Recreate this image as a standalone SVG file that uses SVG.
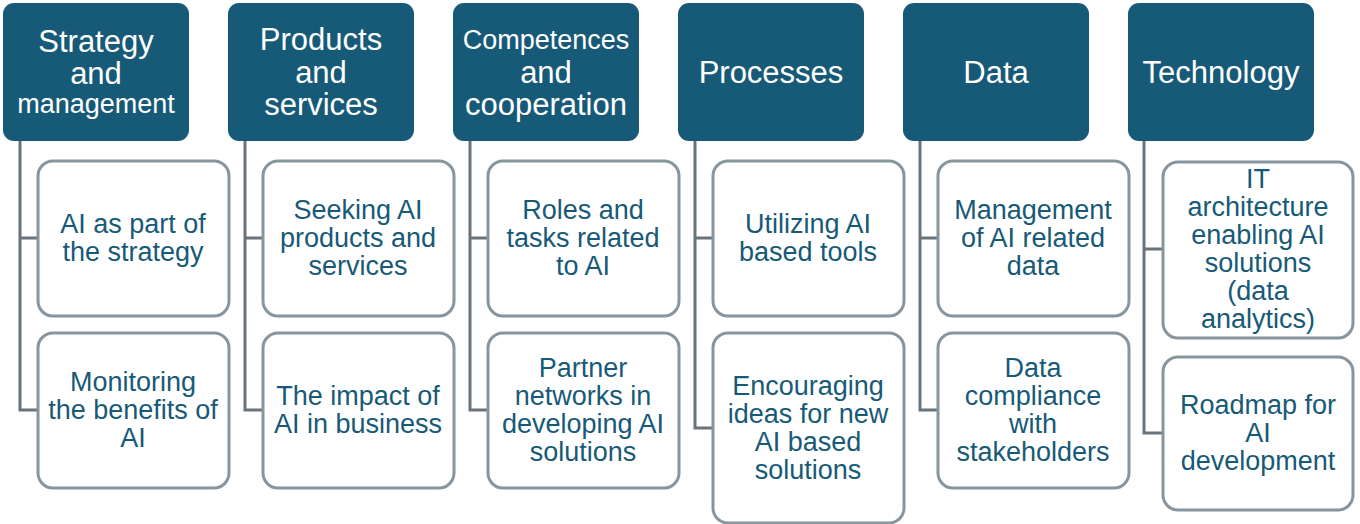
<svg xmlns="http://www.w3.org/2000/svg" width="1360" height="524" viewBox="0 0 1360 524">
<style>
.hd{fill:#175a78}
.ht{fill:#ffffff;font-family:"Liberation Sans",Arial,sans-serif;text-anchor:middle;dominant-baseline:central}
.bx{fill:#ffffff;stroke:#87959f;stroke-width:3}
.bt{fill:#175a78;font-family:"Liberation Sans",Arial,sans-serif;font-size:27px;text-anchor:middle;dominant-baseline:central}
.cn{fill:none;stroke:#68737b;stroke-width:3}
</style>
<rect width="1360" height="524" fill="#ffffff"/>
<g id="connectors">
<path class="cn" d="M20 140 V238 H38 M20 238 V410 H38"/>
<path class="cn" d="M245 140 V238 H263 M245 238 V410 H263"/>
<path class="cn" d="M470 140 V238 H488 M470 238 V410 H488"/>
<path class="cn" d="M695 140 V238 H713 M695 238 V428 H713"/>
<path class="cn" d="M920 140 V238 H938 M920 238 V410 H938"/>
<path class="cn" d="M1144 140 V249 H1163 M1144 249 V433 H1163"/>
</g>
<g id="h1"><rect class="hd" x="3" y="3" width="186" height="138" rx="11"/>
<text class="ht" x="96" font-size="31"><tspan x="96" y="41">Strategy</tspan><tspan x="96" y="73">and</tspan><tspan x="96" y="104" font-size="27">management</tspan></text></g>
<g id="h2"><rect class="hd" x="228" y="3" width="186" height="138" rx="11"/>
<text class="ht" x="321" font-size="31"><tspan x="321" y="39">Products</tspan><tspan x="321" y="72">and</tspan><tspan x="321" y="104">services</tspan></text></g>
<g id="h3"><rect class="hd" x="453" y="3" width="186" height="138" rx="11"/>
<text class="ht" x="546" font-size="31"><tspan x="546" y="40" font-size="27">Competences</tspan><tspan x="546" y="72">and</tspan><tspan x="546" y="104">cooperation</tspan></text></g>
<g id="h4"><rect class="hd" x="678" y="3" width="186" height="138" rx="11"/>
<text class="ht" x="771" y="72" font-size="31">Processes</text></g>
<g id="h5"><rect class="hd" x="903" y="3" width="186" height="138" rx="11"/>
<text class="ht" x="996" y="72" font-size="31">Data</text></g>
<g id="h6"><rect class="hd" x="1128" y="3" width="186" height="138" rx="11"/>
<text class="ht" x="1221" y="72" font-size="31">Technology</text></g>

<g id="c1a"><rect class="bx" x="38" y="161" width="191" height="155" rx="15"/>
<text class="bt"><tspan x="133" y="224">AI as part of</tspan><tspan x="133" y="252">the strategy</tspan></text></g>
<g id="c1b"><rect class="bx" x="38" y="333" width="191" height="155" rx="15"/>
<text class="bt"><tspan x="133" y="382">Monitoring</tspan><tspan x="133" y="410">the benefits of</tspan><tspan x="133" y="438">AI</tspan></text></g>

<g id="c2a"><rect class="bx" x="263" y="161" width="191" height="155" rx="15"/>
<text class="bt"><tspan x="358" y="210">Seeking AI</tspan><tspan x="358" y="238">products and</tspan><tspan x="358" y="266">services</tspan></text></g>
<g id="c2b"><rect class="bx" x="263" y="333" width="191" height="155" rx="15"/>
<text class="bt"><tspan x="358" y="396">The impact of</tspan><tspan x="358" y="424">AI in business</tspan></text></g>

<g id="c3a"><rect class="bx" x="488" y="161" width="191" height="155" rx="15"/>
<text class="bt"><tspan x="583" y="210">Roles and</tspan><tspan x="583" y="238">tasks related</tspan><tspan x="583" y="266">to AI</tspan></text></g>
<g id="c3b"><rect class="bx" x="488" y="333" width="191" height="155" rx="15"/>
<text class="bt"><tspan x="583" y="368">Partner</tspan><tspan x="583" y="396">networks in</tspan><tspan x="583" y="424">developing AI</tspan><tspan x="583" y="452">solutions</tspan></text></g>

<g id="c4a"><rect class="bx" x="713" y="161" width="191" height="155" rx="15"/>
<text class="bt"><tspan x="808" y="224">Utilizing AI</tspan><tspan x="808" y="252">based tools</tspan></text></g>
<g id="c4b"><rect class="bx" x="713" y="333" width="191" height="190" rx="15"/>
<text class="bt"><tspan x="808" y="386">Encouraging</tspan><tspan x="808" y="414">ideas for new</tspan><tspan x="808" y="442">AI based</tspan><tspan x="808" y="470">solutions</tspan></text></g>

<g id="c5a"><rect class="bx" x="938" y="161" width="191" height="155" rx="15"/>
<text class="bt"><tspan x="1033" y="210">Management</tspan><tspan x="1033" y="238">of AI related</tspan><tspan x="1033" y="266">data</tspan></text></g>
<g id="c5b"><rect class="bx" x="938" y="333" width="191" height="155" rx="15"/>
<text class="bt"><tspan x="1033" y="368">Data</tspan><tspan x="1033" y="396">compliance</tspan><tspan x="1033" y="424">with</tspan><tspan x="1033" y="452">stakeholders</tspan></text></g>

<g id="c6a"><rect class="bx" x="1163" y="162" width="190" height="176" rx="15"/>
<text class="bt"><tspan x="1258" y="179">IT</tspan><tspan x="1258" y="207">architecture</tspan><tspan x="1258" y="235">enabling AI</tspan><tspan x="1258" y="263">solutions</tspan><tspan x="1258" y="291">(data</tspan><tspan x="1258" y="319">analytics)</tspan></text></g>
<g id="c6b"><rect class="bx" x="1163" y="357" width="190" height="153" rx="15"/>
<text class="bt"><tspan x="1258" y="405">Roadmap for</tspan><tspan x="1258" y="433">AI</tspan><tspan x="1258" y="461">development</tspan></text></g>
</svg>
